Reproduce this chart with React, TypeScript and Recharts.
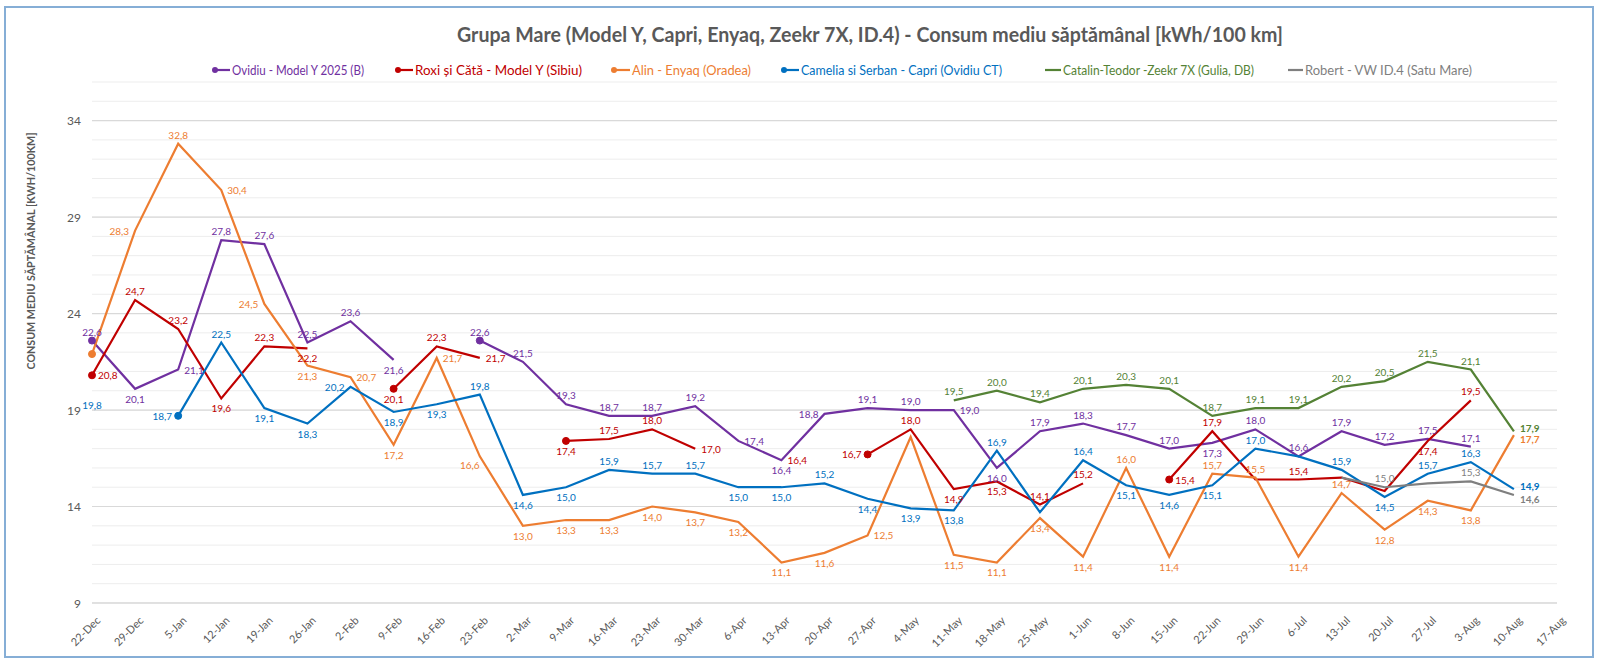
import React from "react";
import { LineChart, Line, XAxis, YAxis, CartesianGrid, LabelList } from "recharts";

// weekly categories (week starting)
const weeks = [
  "22-Dec", "29-Dec", "5-Jan", "12-Jan", "19-Jan", "26-Jan", "2-Feb", "9-Feb", "16-Feb", "23-Feb",
  "2-Mar", "9-Mar", "16-Mar", "23-Mar", "30-Mar", "6-Apr", "13-Apr", "20-Apr", "27-Apr", "4-May",
  "11-May", "18-May", "25-May", "1-Jun", "8-Jun", "15-Jun", "22-Jun", "29-Jun", "6-Jul", "13-Jul",
  "20-Jul", "27-Jul", "3-Aug", "10-Aug", "17-Aug",
];

const ovidiu = [
  22.6, 20.1, 21.1, 27.8, 27.6, 22.5, 23.6, 21.6, null, 22.6,
  21.5, 19.3, 18.7, 18.7, 19.2, 17.4, 16.4, 18.8, 19.1, 19.0,
  19.0, 16.0, 17.9, 18.3, 17.7, 17.0, 17.3, 18.0, 16.6, 17.9,
  17.2, 17.5, 17.1, null, null,
];

const roxi = [
  20.8, 24.7, 23.2, 19.6, 22.3, 22.2, null, 20.1, 22.3, 21.7,
  null, 17.4, 17.5, 18.0, 17.0, null, 16.4, null, 16.7, 18.0,
  14.9, 15.3, 14.1, 15.2, null, 15.4, 17.9, 15.4, 15.4, 15.5,
  14.8, 17.4, 19.5, null, null,
];

const alin = [
  21.9, 28.3, 32.8, 30.4, 24.5, 21.3, 20.7, 17.2, 21.7, 16.6,
  13.0, 13.3, 13.3, 14.0, 13.7, 13.2, 11.1, 11.6, 12.5, 17.6,
  11.5, 11.1, 13.4, 11.4, 16.0, 11.4, 15.7, 15.5, 11.4, 14.7,
  12.8, 14.3, 13.8, 17.7, null,
];

const camelia = [
  19.8, null, 18.7, 22.5, 19.1, 18.3, 20.2, 18.9, 19.3, 19.8,
  14.6, 15.0, 15.9, 15.7, 15.7, 15.0, 15.0, 15.2, 14.4, 13.9,
  13.8, 16.9, 13.7, 16.4, 15.1, 14.6, 15.1, 17.0, 16.6, 15.9,
  14.5, 15.7, 16.3, 14.9, null,
];

const catalin = [
  null, null, null, null, null, null, null, null, null, null,
  null, null, null, null, null, null, null, null, null, null,
  19.5, 20.0, 19.4, 20.1, 20.3, 20.1, 18.7, 19.1, 19.1, 20.2,
  20.5, 21.5, 21.1, 17.9, null,
];

const robert = [
  null, null, null, null, null, null, null, null, null, null,
  null, null, null, null, null, null, null, null, null, null,
  null, null, null, null, null, null, null, null, null, 15.5,
  15.0, 15.2, 15.3, 14.6, null,
];

const yTicks = [9, 10, 11, 12, 13, 14, 15, 16, 17, 18, 19, 20, 21, 22, 23, 24, 25, 26, 27, 28, 29, 30, 31, 32, 33, 34, 35, 36];
const yMajor = [9, 14, 19, 24, 29, 34];

// where each value label sits: a=above b=below r=right l=left
// u=right & up, d=right & down, q=below-left, -=hidden
const series = [
  { key: "ovidiu", name: "Ovidiu - Model Y 2025 (B)", color: "#7030A0", values: ovidiu, marker: true,
    places: "abraaaab-aaaaaarblaarbaaaabaaaaaa--", legend: [214, 232, 132] },
  { key: "roxi", name: "Roxi și Cătă - Model Y (Sibiu)", color: "#C00000", values: roxi, marker: true,
    places: "raabab-bar-baar-r-labbaa-ra-a--ba--", legend: [397, 415, 167] },
  { key: "alin", name: "Alin - Enyaq (Oradea)", color: "#ED7D31", values: alin, marker: true,
    places: "-larlbrbrqbbbbbbbbr-bbbbabaababbbd-", legend: [613, 632, 119] },
  { key: "camelia", name: "Camelia si Serban - Capri (Ovidiu CT)", color: "#0070C0", values: camelia, marker: true,
    places: "b-labblbbabbaaabbabbba-abbba-abaau-", legend: [783, 801, 201] },
  { key: "catalin", name: "Catalin-Teodor -Zeekr 7X (Gulia, DB)", color: "#548235", values: catalin, marker: false,
    places: "--------------------aaaaaaaaaaaaau-", legend: [1045, 1063, 191] },
  { key: "robert", name: "Robert - VW ID.4 (Satu Mare)", color: "#7F7F7F", values: robert, marker: false,
    places: "------------------------------a-ad-", legend: [1288, 1305, 167] },
];

const data = weeks.map((w, i) => {
  const row: any = { week: w };
  series.forEach((s) => {
    row[s.key] = s.values[i] ?? null;
  });
  return row;
});

const FONT = "Lato, 'Noto Sans', sans-serif";
const fmt = (v: number) => v.toFixed(1).replace(".", ",");

const makeDot = (vals: (number | null)[], color: string, enabled: boolean) => (p: any) => {
  const i = p.index;
  const show =
    enabled && vals[i] != null && (i === 0 || vals[i - 1] == null) && vals[i + 1] != null && p.cx != null;
  if (!show) return <g key={`d${i}`} />;
  return <circle key={`d${i}`} cx={p.cx} cy={p.cy} r={3.5} fill={color} stroke={color} strokeWidth={1} />;
};

const makeLabel = (places: string, color: string) => (p: any) => {
  const x = p.x ?? p.viewBox?.x;
  const y = p.y ?? p.viewBox?.y;
  const { value, index } = p;
  if (value == null || x == null || y == null) return null;
  const pos = places[index];
  if (!pos || pos === "-") return null;
  let tx = x;
  let ty = y;
  let anchor: "middle" | "start" | "end" = "middle";
  if (pos === "a") ty = y - 9;
  else if (pos === "b") ty = y + 10;
  else if (pos === "q") {
    tx = x - 10;
    ty = y + 9;
  } else if (pos === "r" || pos === "u" || pos === "d") {
    tx = x + 6;
    anchor = "start";
    if (pos === "u") ty = y - 3;
    if (pos === "d") ty = y + 4;
  } else if (pos === "l") {
    tx = x - 6;
    anchor = "end";
  }
  return (
    <text
      x={tx}
      y={ty}
      textAnchor={anchor}
      dominantBaseline="central"
      fontSize={10}
      fontFamily={FONT}
      fontWeight={index === 33 ? 700 : 400}
      fill={color}
    >
      {fmt(value)}
    </text>
  );
};

const XTick = (props: any) => {
  const { x, y, payload } = props;
  const tx = x + 6;
  const ty = y + 15;
  return (
    <text
      x={tx}
      y={ty}
      transform={`rotate(-45 ${tx} ${ty})`}
      textAnchor="end"
      dominantBaseline="central"
      fontSize={11}
      fontFamily={FONT}
      fill="#595959"
    >
      {payload.value}
    </text>
  );
};

const YTick = (props: any) => {
  const { x, y, payload } = props;
  if (!yMajor.includes(payload.value)) return <g />;
  return (
    <text x={x - 11} y={y} textAnchor="end" dominantBaseline="central" fontSize={12} fontFamily={FONT} fill="#595959">
      {payload.value}
    </text>
  );
};

export default function App() {
  return (
    <div style={{ position: "absolute", left: 0, top: 0, width: 1600, height: 665, background: "#fff" }}>
      <LineChart
        width={1600}
        height={665}
        data={data}
        margin={{ top: 82, right: 43, bottom: 0, left: 0 }}
      >
        <CartesianGrid vertical={false} horizontalValues={yTicks} stroke="#ededed" strokeWidth={1} />
        <CartesianGrid vertical={false} horizontalValues={yMajor} stroke="#d9d9d9" strokeWidth={1.2} />
        <XAxis
          dataKey="week"
          interval={0}
          height={62}
          tickLine={false}
          tickSize={0}
          tickMargin={0}
          axisLine={{ stroke: "#d9d9d9" }}
          tick={<XTick />}
          padding={{ left: 0, right: 0 }}
        />
        <YAxis
          type="number"
          domain={[9, 36]}
          ticks={yTicks}
          interval={0}
          width={92}
          tickLine={false}
          tickSize={0}
          tickMargin={0}
          axisLine={false}
          tick={<YTick />}
        />
        {series.map((s) => (
          <Line
            key={s.key}
            type="linear"
            dataKey={s.key}
            name={s.name}
            stroke={s.color}
            strokeWidth={2.2}
            connectNulls={false}
            isAnimationActive={false}
            dot={makeDot(s.values, s.color, s.marker)}
            activeDot={false}
          >
            <LabelList dataKey={s.key} content={makeLabel(s.places, s.color)} />
          </Line>
        ))}
      </LineChart>

      <svg
        width={1600}
        height={665}
        style={{ position: "absolute", left: 0, top: 0, pointerEvents: "none" }}
      >
        <rect x={5} y={7} width={1588} height={650} fill="none" stroke="#86AED6" strokeWidth={2} />
        <text
          x={457}
          y={42}
          textLength={826}
          lengthAdjust="spacingAndGlyphs"
          fontSize={20}
          fontWeight={700}
          fontFamily={FONT}
          fill="#595959"
        >
          Grupa Mare (Model Y, Capri, Enyaq, Zeekr 7X, ID.4) - Consum mediu săptămânal [kWh/100 km]
        </text>
        <text
          transform="translate(30 251) rotate(-90)"
          textAnchor="middle"
          dominantBaseline="central"
          textLength={237}
          lengthAdjust="spacingAndGlyphs"
          fontSize={11}
          fontWeight={700}
          fontFamily={FONT}
          fill="#595959"
        >
          CONSUM MEDIU SĂPTĂMÂNAL [KWH/100KM]
        </text>
        {series.map((s) => {
          const [mx, tx, tw] = s.legend;
          return (
            <g key={s.key}>
              <line x1={mx} y1={70} x2={tx - 2} y2={70} stroke={s.color} strokeWidth={2.2} />
              {s.marker && <circle cx={mx + 1} cy={70} r={3} fill={s.color} />}
              <text
                x={tx}
                y={75}
                textLength={tw}
                lengthAdjust="spacingAndGlyphs"
                fontSize={13.5}
                fontFamily={FONT}
                fill={s.color}
              >
                {s.name}
              </text>
            </g>
          );
        })}
      </svg>
    </div>
  );
}
